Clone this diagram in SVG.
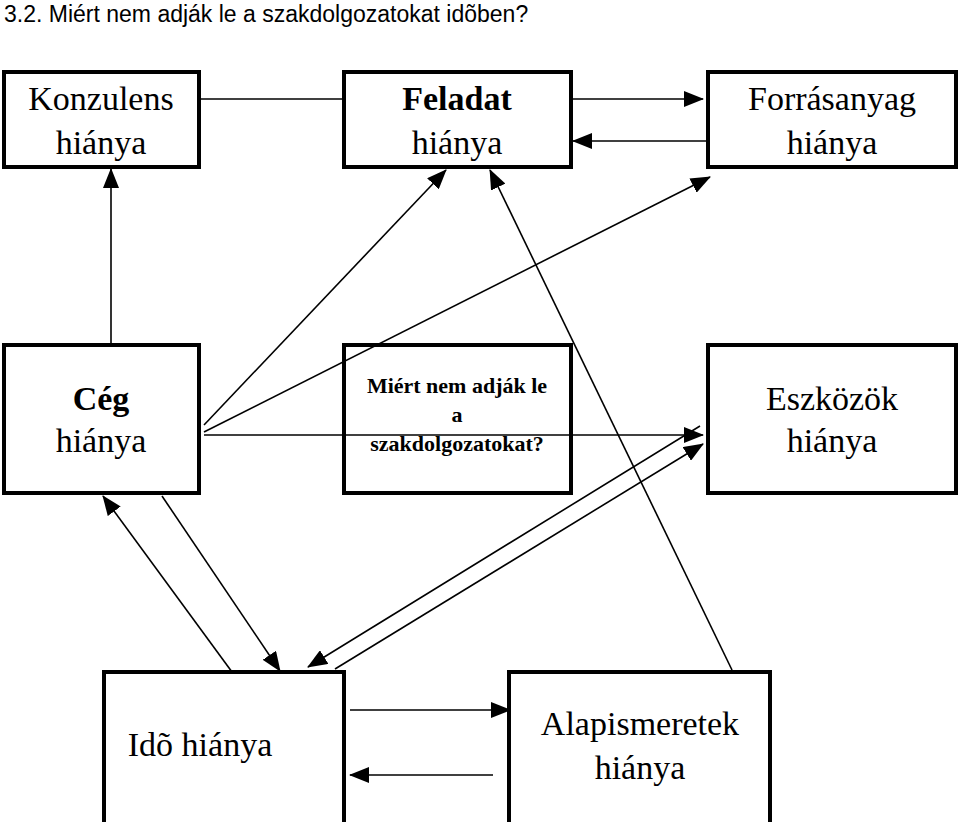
<svg xmlns="http://www.w3.org/2000/svg" width="960" height="822" viewBox="0 0 960 822">
<style>
.b{fill:none;stroke:#000;stroke-width:4}
.t{font-family:"Liberation Serif",serif;font-size:34px;text-anchor:middle}
.s{font-family:"Liberation Serif",serif;font-size:22px;font-weight:bold;text-anchor:middle}
.c line{stroke:#000;stroke-width:1.6}
</style>
<defs><marker id="m" markerWidth="20" markerHeight="16" refX="19" refY="8" orient="auto" markerUnits="userSpaceOnUse" viewBox="0 0 20 16"><path d="M0,0L20,8L0,16z" fill="#000"/></marker></defs>
<rect width="960" height="822" fill="#fff"/>
<text x="4" y="22" font-family="Liberation Sans,sans-serif" font-size="23">3.2. Miért nem adják le a szakdolgozatokat idõben?</text>
<g class="c" id="connectors">
<line x1="200" y1="99" x2="344" y2="99"/>
<line x1="571" y1="99" x2="703" y2="99" marker-end="url(#m)"/>
<line x1="706" y1="141" x2="573" y2="141" marker-end="url(#m)"/>
<line x1="111" y1="345" x2="111" y2="169" marker-end="url(#m)"/>
<line x1="204" y1="425" x2="446" y2="170" marker-end="url(#m)"/>
<line x1="204" y1="432" x2="710" y2="177" marker-end="url(#m)"/>
<line x1="204" y1="435" x2="703" y2="435" marker-end="url(#m)"/>
<line x1="732" y1="670" x2="490" y2="170" marker-end="url(#m)"/>
<line x1="232" y1="672" x2="103" y2="496" marker-end="url(#m)"/>
<line x1="162" y1="496" x2="280" y2="671" marker-end="url(#m)"/>
<line x1="700" y1="426" x2="308" y2="667" marker-end="url(#m)"/>
<line x1="335" y1="669" x2="703" y2="444" marker-end="url(#m)"/>
<line x1="350" y1="710" x2="510" y2="710" marker-end="url(#m)"/>
<line x1="493" y1="775" x2="350" y2="775" marker-end="url(#m)"/>
</g>
<g id="konzulens"><rect class="b" x="4" y="72" width="195" height="95"/><text class="t" x="101" y="110">Konzulens</text><text class="t" x="101" y="154">hiánya</text></g>
<g id="feladat"><rect class="b" x="344" y="72" width="227" height="95"/><text class="t" x="457" y="110" font-weight="bold">Feladat</text><text class="t" x="457" y="154">hiánya</text></g>
<g id="forras"><rect class="b" x="708" y="72" width="248" height="95"/><text class="t" x="832" y="110">Forrásanyag</text><text class="t" x="832" y="154">hiánya</text></g>
<g id="ceg"><rect class="b" x="4" y="345" width="195" height="148"/><text class="t" x="101" y="410" font-weight="bold">Cég</text><text class="t" x="101" y="452">hiánya</text></g>
<g id="miert"><rect class="b" x="344" y="345" width="227" height="148"/><text class="s" x="457" y="393">Miért nem adják le</text><text class="s" x="457" y="422">a</text><text class="s" x="457" y="451">szakdolgozatokat?</text></g>
<g id="eszkozok"><rect class="b" x="708" y="345" width="248" height="148"/><text class="t" x="832" y="410">Eszközök</text><text class="t" x="832" y="452">hiánya</text></g>
<g id="ido"><rect class="b" x="104" y="672" width="240" height="160"/><text class="t" x="200" y="756">Idõ hiánya</text></g>
<g id="alap"><rect class="b" x="509" y="672" width="261" height="160"/><text class="t" x="640" y="735">Alapismeretek</text><text class="t" x="640" y="779">hiánya</text></g>
</svg>
